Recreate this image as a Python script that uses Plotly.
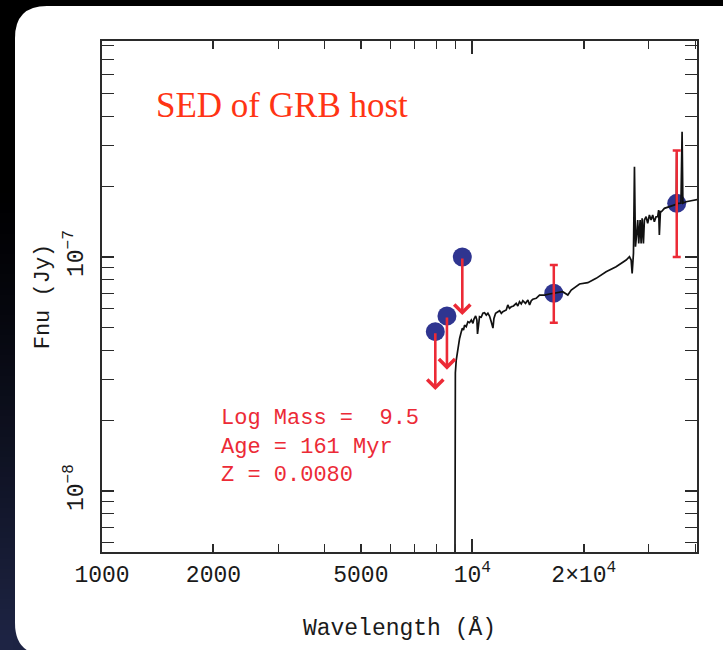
import base64, struct, zlib
import numpy as np
import plotly.graph_objects as go

# ---------------- data ----------------
spec_wave = [8960, 9000, 9050, 9150, 9240, 9340, 9400, 9470, 9530, 9630, 9730, 9830, 9940,
             10040, 10100, 10210, 10290, 10330, 10460, 10570, 10680, 10790, 10910, 11020,
             11130, 11250, 11370, 11440, 11560, 11730, 11850, 11980, 12090, 12350, 12470,
             12600, 12740, 12920, 13140, 13270, 13410, 13560, 13690, 13920, 14130, 14280,
             14430, 14570, 14880, 15190, 15670, 16160, 16670, 17550, 18110, 18500, 19480,
             20510, 21600, 22980, 24450, 26030, 26570, 26850, 27020, 27240, 27410, 27580,
             27800, 27970, 28150, 28390, 28570, 28750, 28980, 29160, 29470, 29760, 30080,
             30400, 30700, 31020, 31350, 31670, 31860, 32000, 32210, 32410, 33020, 34060,
             35130, 35550, 35640, 35700, 35800, 36600, 36860, 37040, 37790, 38980, 40610]
spec_flux = [1.0e-9, 3.20e-8, 3.63e-8, 4.14e-8, 4.49e-8, 4.80e-8, 4.96e-8, 4.88e-8, 5.12e-8,
             5.04e-8, 5.29e-8, 5.24e-8, 5.38e-8, 5.21e-8, 5.42e-8, 5.60e-8, 5.38e-8, 4.69e-8,
             5.56e-8, 5.53e-8, 5.75e-8, 5.78e-8, 5.65e-8, 5.75e-8, 5.60e-8, 5.29e-8, 4.97e-8,
             5.47e-8, 5.75e-8, 5.84e-8, 5.90e-8, 5.75e-8, 5.84e-8, 5.94e-8, 6.24e-8, 6.04e-8,
             6.13e-8, 6.18e-8, 6.34e-8, 6.18e-8, 6.44e-8, 6.30e-8, 6.51e-8, 6.34e-8, 6.55e-8,
             6.24e-8, 6.51e-8, 6.60e-8, 6.66e-8, 6.88e-8, 6.88e-8, 6.95e-8, 7.00e-8, 7.11e-8,
             6.88e-8, 7.23e-8, 7.67e-8, 7.77e-8, 8.11e-8, 8.65e-8, 9.09e-8, 9.71e-8, 1.003e-7,
             9.71e-8, 8.52e-8, 1.037e-7, 2.432e-7, 1.107e-7, 1.263e-7, 1.439e-7, 1.144e-7,
             1.439e-7, 1.144e-7, 1.463e-7, 1.144e-7, 1.439e-7, 1.487e-7, 1.393e-7, 1.512e-7,
             1.439e-7, 1.512e-7, 1.416e-7, 1.487e-7, 1.487e-7, 1.588e-7, 1.242e-7, 1.562e-7,
             1.562e-7, 1.615e-7, 1.641e-7, 1.668e-7, 1.680e-7, 2.775e-7, 1.487e-7, 1.696e-7,
             1.700e-7, 3.432e-7, 1.700e-7, 1.723e-7, 1.740e-7, 1.760e-7]

phot_wave = [16600, 35650]
phot_flux = [7.00e-8, 1.696e-7]
phot_top = [9.24e-8, 2.85e-7]
phot_bottom = [5.24e-8, 1.00e-7]

lim_wave = [7945, 8541, 9397]
lim_flux = [4.80e-8, 5.60e-8, 1.00e-7]
lim_tip = [2.70e-8, 3.30e-8, 5.65e-8]

x_tick_vals = [1000, 2000, 5000, 10000, 20000]
x_tick_text = ["1000", "2000", "5000", "10<sup>4</sup>", "2×10<sup>4</sup>"]
x_minor_vals = [3000, 4000, 6000, 7000, 8000, 9000, 30000, 40000]
x_decade_vals = [1000, 10000]
y_tick_vals = [1e-8, 1e-7]
y_tick_text = ["10<sup>−8</sup>", "10<sup>−7</sup>"]
y_minor_vals = [6e-9, 7e-9, 8e-9, 9e-9, 2e-8, 3e-8, 4e-8, 5e-8, 6e-8, 7e-8, 8e-8, 9e-8,
                2e-7, 3e-7, 4e-7, 5e-7, 6e-7, 7e-7, 8e-7]
x_range = [1000, 40440]
y_range = [5.49e-9, 8.38e-7]

title_text = "SED of GRB host"
model_lines = ["Log Mass =  9.5", "Age = 161 Myr", "Z = 0.0080"]

# ---------------- styling / geometry ----------------
W, H = 723, 650
ML, MR, MT, MB = 102, 26, 41, 98
PW, PH = W - ML - MR, H - MT - MB
BLUE = "#2F3590"
RED = "#EC2A36"
TITLE_RED = "#FF3414"
AX = "#2a2a2a"
MONO = "Liberation Mono"


def px(xp):
    return (xp - ML) / PW


def py(yp):
    return (H - MB - yp) / PH


def png_uri(arr):
    h, w, _ = arr.shape
    raw = b"".join(b"\x00" + arr[i].tobytes() for i in range(h))

    def chunk(t, d):
        c = struct.pack(">I", len(d)) + t + d
        return c + struct.pack(">I", zlib.crc32(t + d) & 0xFFFFFFFF)
    data = b"\x89PNG\r\n\x1a\n" + chunk(b"IHDR", struct.pack(">IIBBBBB", w, h, 8, 2, 0, 0, 0))
    data += chunk(b"IDAT", zlib.compress(raw, 9)) + chunk(b"IEND", b"")
    return "data:image/png;base64," + base64.b64encode(data).decode()


gy, gx = np.mgrid[0:32, 0:32] / 31.0
t = np.clip((gy - 0.25) / 0.75, 0, 1) ** 1.3 * (1 - 0.7 * gx)
navy = np.array([30, 36, 68])
bg = (t[..., None] * navy).astype(np.uint8)

fig = go.Figure()
fig.add_trace(go.Scatter(x=lim_wave + phot_wave, y=lim_flux + phot_flux, mode="markers",
                         marker=dict(size=19, color=BLUE, line=dict(width=0)),
                         hoverinfo="skip", showlegend=False))
fig.add_trace(go.Scatter(x=spec_wave, y=spec_flux, mode="lines",
                         line=dict(color="#111111", width=1.7), hoverinfo="skip",
                         showlegend=False))
fig.add_trace(go.Scatter(x=phot_wave, y=phot_flux, mode="markers",
                         marker=dict(size=2, color="rgba(0,0,0,0)"),
                         error_y=dict(type="data", symmetric=False,
                                      array=[a - b for a, b in zip(phot_top, phot_flux)],
                                      arrayminus=[b - c for b, c in zip(phot_flux, phot_bottom)],
                                      color=RED, thickness=2.5, width=4),
                         hoverinfo="skip", showlegend=False))
fig.add_trace(go.Scatter(x=[x_range[0]], y=[y_range[0]], xaxis="x2", mode="markers",
                         marker=dict(size=1, color="rgba(0,0,0,0)"), hoverinfo="skip",
                         showlegend=False))

for w_, f_, tip in zip(lim_wave, lim_flux, lim_tip):
    fig.add_annotation(x=np.log10(w_), y=np.log10(tip), ax=np.log10(w_), ay=np.log10(f_),
                       xref="x", yref="y", axref="x", ayref="y", text="", showarrow=True,
                       arrowhead=4, arrowsize=1.2, arrowwidth=2.6, arrowcolor=RED,
                       standoff=0, startstandoff=0)

fig.add_annotation(x=px(154), y=py(105), xref="paper", yref="paper", text=title_text,
                   showarrow=False, xanchor="left", yanchor="middle",
                   font=dict(family="Liberation Serif", size=35, color=TITLE_RED))
fig.add_annotation(x=px(219), y=py(447), xref="paper", yref="paper",
                   text="<br>".join(l.replace(" ", "&nbsp;") for l in model_lines),
                   showarrow=False, xanchor="left", yanchor="middle", align="left",
                   font=dict(family=MONO, size=22, color=RED))

x0, x1, y0, y1, r = px(15), px(760), py(6), py(655), 32
rx, ry = r / PW, r / PH
panel = (f"M {x0} {y0 - ry} L {x0} {y1 + ry} Q {x0} {y1} {x0 + rx} {y1} L {x1} {y1} "
         f"L {x1} {y0} L {x0 + rx} {y0} Q {x0} {y0} {x0} {y0 - ry} Z")
fig.add_shape(type="path", path=panel, xref="paper", yref="paper", layer="below",
              fillcolor="white", line=dict(width=0))
fig.add_layout_image(source=png_uri(bg), xref="paper", yref="paper", x=px(0), y=py(0),
                     sizex=W / PW, sizey=H / PH, sizing="stretch", xanchor="left",
                     yanchor="top", layer="below")

tickfont = dict(family=MONO, size=23, color="#1a1a1a")
fig.update_layout(
    width=W, height=H, margin=dict(l=ML, r=MR, t=MT, b=MB),
    paper_bgcolor="black", plot_bgcolor="rgba(0,0,0,0)",
    xaxis=dict(type="log", range=[np.log10(x_range[0]), np.log10(x_range[1])],
               tickmode="array", tickvals=x_tick_vals, ticktext=x_tick_text,
               ticks="inside", ticklen=8, tickwidth=1.6, tickcolor=AX,
               showline=True, linecolor=AX, linewidth=2, mirror="allticks",
               showgrid=False, zeroline=False, tickfont=tickfont,
               minor=dict(tickmode="array", tickvals=x_minor_vals, ticks="inside",
                          ticklen=8, tickwidth=1.4, tickcolor=AX, showgrid=False),
               title=dict(text="Wavelength (Å)", font=dict(family=MONO, size=23,
                                                           color="#1a1a1a"), standoff=31)),
    xaxis2=dict(type="log", overlaying="x", anchor="y", side="bottom",
                range=[np.log10(x_range[0]), np.log10(x_range[1])],
                tickmode="array", tickvals=x_decade_vals, ticks="inside", ticklen=13,
                tickwidth=1.6, tickcolor=AX, showticklabels=False, showline=False,
                mirror="allticks", showgrid=False, zeroline=False),
    yaxis=dict(type="log", range=[np.log10(y_range[0]), np.log10(y_range[1])],
               tickmode="array", tickvals=y_tick_vals, ticktext=y_tick_text,
               tickangle=-90, ticks="inside", ticklen=12, tickwidth=1.6, tickcolor=AX,
               showline=True, linecolor=AX, linewidth=2, mirror="allticks",
               showgrid=False, zeroline=False, tickfont=tickfont, ticklabelstandoff=8,
               minor=dict(tickmode="array", tickvals=y_minor_vals, ticks="inside",
                          ticklen=6, tickwidth=1.4, tickcolor=AX, showgrid=False),
               title=dict(text="Fnu (Jy)", font=dict(family=MONO, size=22,
                                                     color="#1a1a1a"), standoff=4)),
)

fig.write_html("out.html")
